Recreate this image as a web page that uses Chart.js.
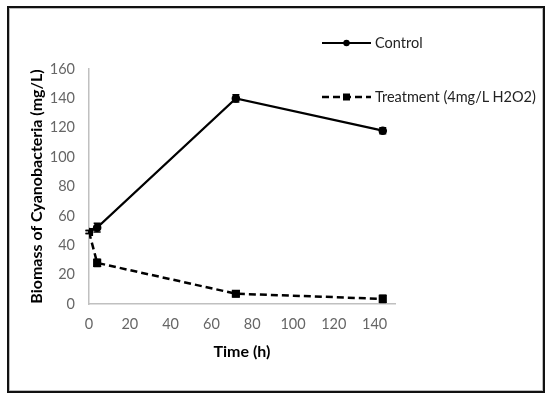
<!DOCTYPE html>
<html>
<head>
<meta charset="utf-8">
<script src="https://cdn.jsdelivr.net/npm/chart.js@4/dist/chart.umd.min.js"></script>
<style>
  html, body { margin: 0; padding: 0; background: #fff; }
  #wrap { position: relative; width: 550px; height: 398px; }
  #frame { position: absolute; left: 7px; top: 6px; width: 534px; height: 383px; border: 2px solid #111; box-shadow: inset 0 0 0 1px #bbb; }
  #chart { position: absolute; left: 0; top: 0; }
  .legend-item { position: absolute; left: 322px; font-family: Lato, sans-serif; font-size: 14.5px; color: #222; display: flex; align-items: center; white-space: nowrap; }
  .legend-item svg { margin-right: 4px; }
</style>
</head>
<body>
<div id="wrap">
  <div id="frame"></div>
  <canvas id="chart" width="550" height="398"></canvas>
  <div class="legend-item" style="top:34px">
    <svg width="49" height="10"><line x1="0" y1="5" x2="49" y2="5" stroke="#000" stroke-width="2.2"/><circle cx="24.5" cy="5" r="3.2" fill="#000"/></svg>Control
  </div>
  <div class="legend-item" style="top:88px">
    <svg width="49" height="10"><line x1="0" y1="5" x2="49" y2="5" stroke="#000" stroke-width="2.5" stroke-dasharray="7 4"/><rect x="21" y="1.5" width="7" height="7" fill="#000"/></svg>Treatment (4mg/L H2O2)
  </div>
</div>
<script>
// data
const hours = [0, 4, 72, 144];
const control = [49, 52, 140, 118];
const controlErr = [1, 3, 2.5, 2];
const treatment = [49, 28, 7, 3.5];
const treatmentErr = [1, 2.5, 2, 2.5];
const xTicks = [0, 20, 40, 60, 80, 100, 120, 140];
const yTicks = [0, 20, 40, 60, 80, 100, 120, 140, 160];

const toPoints = (vals) => hours.map((h, i) => ({ x: h, y: vals[i] }));

// draw error bars using chart scales
const errorBars = {
    id: 'errorBars',
    afterDatasetsDraw(chart) {
        const ctx = chart.ctx;
        const xs = chart.scales.x, ys = chart.scales.y;
        chart.data.datasets.forEach((ds) => {
            ctx.save();
            ctx.strokeStyle = '#000';
            ctx.lineWidth = 1.5;
            ds.data.forEach((p, i) => {
                const e = ds.errors[i];
                const px = xs.getPixelForValue(p.x);
                const top = ys.getPixelForValue(p.y + e);
                const bot = ys.getPixelForValue(p.y - e);
                ctx.beginPath();
                ctx.moveTo(px, top); ctx.lineTo(px, bot);
                ctx.moveTo(px - 3.5, top); ctx.lineTo(px + 3.5, top);
                ctx.moveTo(px - 3.5, bot); ctx.lineTo(px + 3.5, bot);
                ctx.stroke();
            });
            ctx.restore();
        });
    }
};

const axisFont = { family: 'Lato, sans-serif', size: 14.5 };
const titleFont = { family: 'Lato, sans-serif', size: 16, weight: 'bold' };

new Chart(document.getElementById('chart'), {
    type: 'line',
    data: {
        datasets: [{
            label: 'Control',
            data: toPoints(control),
            errors: controlErr,
            borderColor: '#000',
            backgroundColor: '#000',
            borderWidth: 2.2,
            pointStyle: 'circle',
            pointRadius: 3.2,
            tension: 0
        }, {
            label: 'Treatment (4mg/L H2O2)',
            data: toPoints(treatment),
            errors: treatmentErr,
            borderColor: '#000',
            backgroundColor: '#000',
            borderWidth: 2.5,
            borderDash: [7, 4],
            pointStyle: 'rect',
            pointRadius: 4,
            tension: 0
        }]
    },
    options: {
        responsive: false,
        animation: false,
        layout: { padding: { left: 10, top: 69, right: 155, bottom: 30 } },
        plugins: { legend: { display: false }, tooltip: { enabled: false } },
        scales: {
            x: {
                type: 'linear',
                min: 0,
                max: 150,
                afterBuildTicks: (s) => { s.ticks = xTicks.map(v => ({ value: v })); },
                afterFit: (s) => { s.height = 64; },
                grid: { display: false, drawTicks: false },
                border: { display: true, color: '#c0c0c0', width: 1.5 },
                ticks: { color: '#666', font: axisFont, padding: 12 },
                title: { display: true, text: 'Time (h)', color: '#000', font: titleFont, padding: { top: 4, bottom: 7 } }
            },
            y: {
                min: 0,
                max: 160,
                afterBuildTicks: (s) => { s.ticks = yTicks.map(v => ({ value: v })); },
                afterFit: (s) => { s.width = 79; },
                grid: { display: false, drawTicks: false },
                border: { display: true, color: '#c0c0c0', width: 1.5 },
                ticks: { color: '#666', font: axisFont, padding: 14 },
                title: { display: true, text: 'Biomass of Cyanobacteria (mg/L)', color: '#000', font: titleFont, padding: { top: 17, bottom: 0 } }
            }
        }
    },
    plugins: [errorBars]
});
</script>
</body>
</html>
